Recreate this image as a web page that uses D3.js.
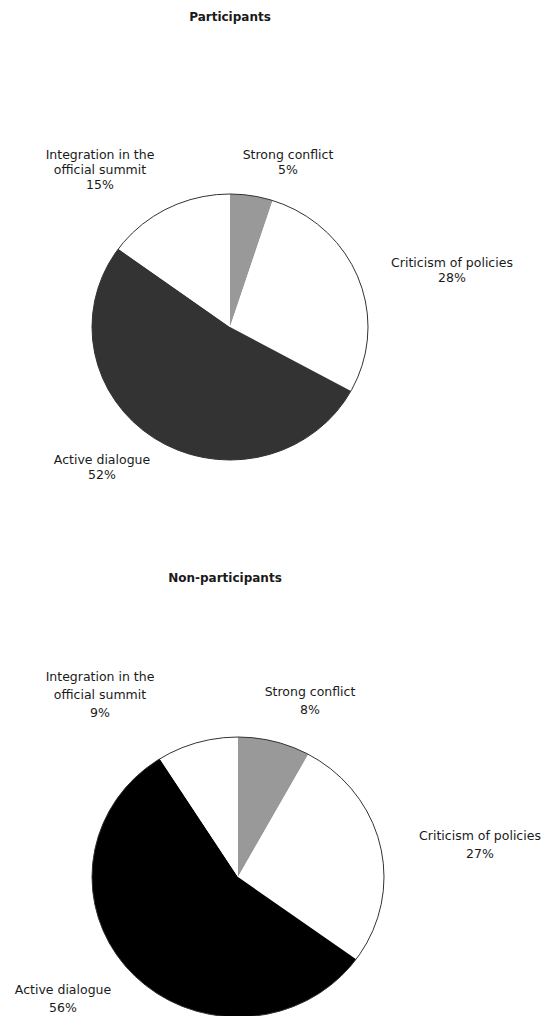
<!DOCTYPE html>
<html>
<head>
<meta charset="utf-8">
<script src="https://cdn.jsdelivr.net/npm/d3@7"></script>
<style>
  body { margin: 0; background: #fff; }
  text { font-family: "DejaVu Sans", Verdana, sans-serif; fill: #1a1a1a; }
</style>
</head>
<body>
<div id="chart"></div>
<script>
// ------------------------------------------------------------
// Data
// ------------------------------------------------------------
const categories = ["Strong conflict", "Criticism of policies", "Active dialogue", "Integration in the official summit"]
const participants = [5, 28, 52, 15]
const nonParticipants = [8, 27, 56, 9]

// label lines, as printed in the chart
const labelLines = [["Strong conflict"], ["Criticism of policies"], ["Active dialogue"], ["Integration in the", "official summit"]]

// ------------------------------------------------------------
// Layout
// ------------------------------------------------------------
const width = 545, height = 1016

const charts = [
    {
        title: "Participants", values: participants,
        titleX: 230, titleY: 17, cx: 230, cy: 327, rx: 138, ry: 133,
        fills: ["#999999", "#ffffff", "#333333", "#ffffff"],
        lineH: 15, fontSize: 12.5,
        // label centre (first line) for each slice
        labels: [[288, 155], [452, 263], [102, 460], [100, 155]]
    },
    {
        title: "Non-participants", values: nonParticipants,
        titleX: 225, titleY: 578, cx: 238, cy: 877, rx: 146, ry: 140,
        fills: ["#999999", "#ffffff", "#000000", "#ffffff"],
        lineH: 18, fontSize: 12.5,
        labels: [[310, 692], [480, 836], [63, 990], [100, 677]]
    }
]

const svg = d3.select("#chart")
    .append("svg")
    .attr("width", width)
    .attr("height", height)

const pie = d3.pie().sort(null).value(d => d)

function drawPie(c) {
    const g = svg.append("g")

    g.append("text")
        .attr("x", c.titleX)
        .attr("y", c.titleY)
        .attr("dy", "0.35em")
        .attr("text-anchor", "middle")
        .attr("font-weight", "bold")
        .attr("font-size", "12px")
        .text(c.title)

    const arc = d3.arc().innerRadius(0).outerRadius(c.rx)

    // squash a little vertically, like the original picture
    const pg = g.append("g")
        .attr("transform", `translate(${c.cx},${c.cy}) scale(1,${c.ry / c.rx})`)

    pg.selectAll("path")
        .data(pie(c.values))
        .enter()
        .append("path")
        .attr("d", arc)
        .attr("fill", (d, i) => c.fills[i])

    pg.append("circle")
        .attr("r", c.rx)
        .attr("fill", "none")
        .attr("stroke", "#333")
        .attr("stroke-width", 1)
        .attr("vector-effect", "non-scaling-stroke")

    // labels
    const lab = g.selectAll("g.lab")
        .data(c.values)
        .enter()
        .append("g")
        .attr("class", "lab")
        .attr("transform", (d, i) => `translate(${c.labels[i][0]},${c.labels[i][1]})`)

    lab.each(function (d, i) {
        const lines = labelLines[i].concat([d + "%"])
        d3.select(this).selectAll("text")
            .data(lines)
            .enter()
            .append("text")
            .attr("x", 0)
            .attr("y", (t, j) => j * c.lineH)
            .attr("dy", "0.35em")
            .attr("text-anchor", "middle")
            .attr("font-size", c.fontSize + "px")
            .text(t => t)
    })
}

charts.forEach(drawPie)
</script>
</body>
</html>
